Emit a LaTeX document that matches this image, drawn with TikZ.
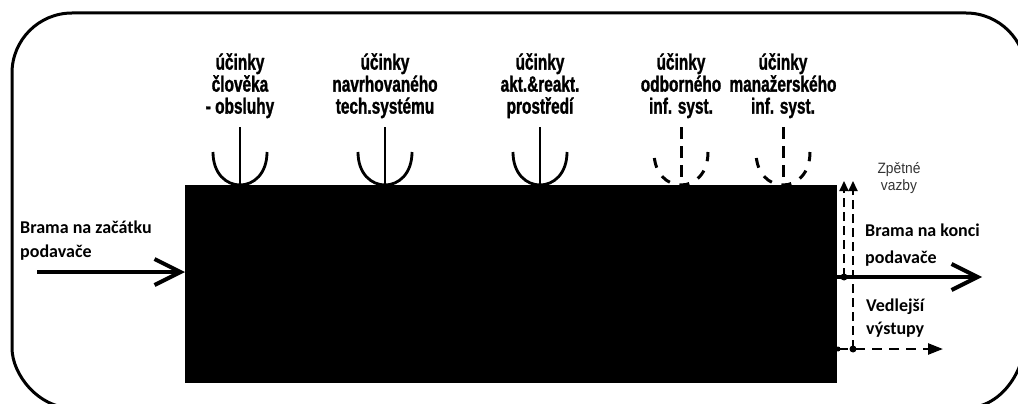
\documentclass[tikz,border=0pt]{standalone}
\usepackage{fontspec}
\usetikzlibrary{arrows.meta}
\newfontfamily\narrowfont[FakeStretch=0.70, FakeBold=1.2]{Liberation Sans}
\newfontfamily\carlitofont{Carlito}
\newfontfamily\thinfont[FakeStretch=0.92]{Liberation Sans}
\tikzset{
  frame/.style={line width=3pt},
  blockbox/.style={fill=black, draw=black, inner sep=0pt, minimum width=651pt, minimum height=197pt, anchor=north west},
  toplabel/.style={font=\narrowfont\bfseries\fontsize{22}{22}\selectfont, align=center, inner sep=0pt, anchor=north},
  sidelabel/.style={font=\carlitofont\bfseries\fontsize{18}{24}\selectfont, align=left, inner sep=0pt, anchor=north west},
  fblabel/.style={font=\thinfont\fontsize{15}{17}\selectfont, text=black!80, align=center, inner sep=0pt, anchor=north},
  mainarrow/.style={line width=4pt, -{Straight Barb[length=26pt, width=26pt, line width=4pt]}},
  fbarrow/.style={line width=2pt, dash pattern=on 9pt off 5pt, -{Triangle[length=10pt, width=9pt]}},
  sidearrow/.style={line width=2.5pt, dash pattern=on 10pt off 7pt, -{Triangle[length=15pt, width=11pt]}},
  dot/.style={circle, fill=black, inner sep=0pt, minimum size=7pt},
  smalldot/.style={circle, fill=black, inner sep=0pt, minimum size=5pt},
  solidcup/.pic={
    \draw[line width=2.8pt] (0,-58) -- (0,0);
    \draw[line width=2.8pt] (-27,-33) .. controls (-27,11) and (27,11) .. (27,-33);
  },
  dashedcup/.pic={
    \draw[line width=3pt, dash pattern=on 12pt off 7pt] (0,-58) -- (0,0);
    \draw[line width=3pt, dash pattern=on 10pt off 10pt, dash phase=14pt] (-27,-33) .. controls (-27,11) and (27,11) .. (27,-33);
  }
}
\begin{document}
\begin{tikzpicture}[x=1pt, y=-1pt]
\useasboundingbox (0,0) rectangle (1018,404);
\begin{scope}
  \clip (0,0) rectangle (1018,404);
  \draw[frame] (12,73) .. controls (12,39.9) and (38.9,13) .. (72,13)
    -- (966,13) .. controls (999.1,13) and (1026,39.9) .. (1026,73)
    -- (1026,332) .. controls (1026,374) and (999.1,408) .. (966,408)
    -- (72,408) .. controls (38.9,408) and (12,374.9) .. (12,348) -- cycle;
\end{scope}

\node[blockbox] (box) at (185,185) {};

% top influences
\pic at (240,185) {solidcup};
\pic at (385,185) {solidcup};
\pic at (540,185) {solidcup};
\pic at (681,185) {dashedcup};
\pic at (783,185) {dashedcup};

\node[toplabel] (l1) at (240,53) {účinky\\člověka\\- obsluhy};
\node[toplabel] (l2) at (385,53) {účinky\\navrhovaného\\tech.systému};
\node[toplabel] (l3) at (540,53) {účinky\\akt.\&reakt.\\prostředí};
\node[toplabel] (l4) at (681,53) {účinky\\odborného\\inf. syst.};
\node[toplabel] (l5) at (783,53) {účinky\\manažerského\\inf. syst.};

% input
\node[sidelabel] (inlabel) at (20,221) {Brama na začátku\\podavače};
\coordinate (inL) at (37,272);
\draw[mainarrow] (inL) -- (inL -| box.west);

% output
\node[sidelabel, font=\carlitofont\bfseries\fontsize{18}{27}\selectfont] (outlabel) at (865,224) {Brama na konci\\podavače};
\coordinate (outR) at (982,277);
\draw[mainarrow] (outR -| box.east) -- (outR);

% feedback
\node[fblabel] (fblab) at (899,162) {Zpětné\\vazby};
\node[dot] (d1) at (844,277) {};
\node[dot] (d2) at (853,349) {};
\node[smalldot] (d0) at (838,349) {};
\coordinate (fb1top) at (844,181);
\coordinate (fb2top) at (853,181);
\draw[fbarrow] (d1.center) -- (fb1top);
\draw[fbarrow] (d2.center) -- (fb2top);

% side outputs
\node[sidelabel, font=\carlitofont\bfseries\fontsize{18}{23}\selectfont] (sidelab) at (866,299) {Vedlejší\\výstupy};
\coordinate (sideR) at (943,349);
\draw[sidearrow] (d0.center) -- (sideR);
\end{tikzpicture}
\end{document}
